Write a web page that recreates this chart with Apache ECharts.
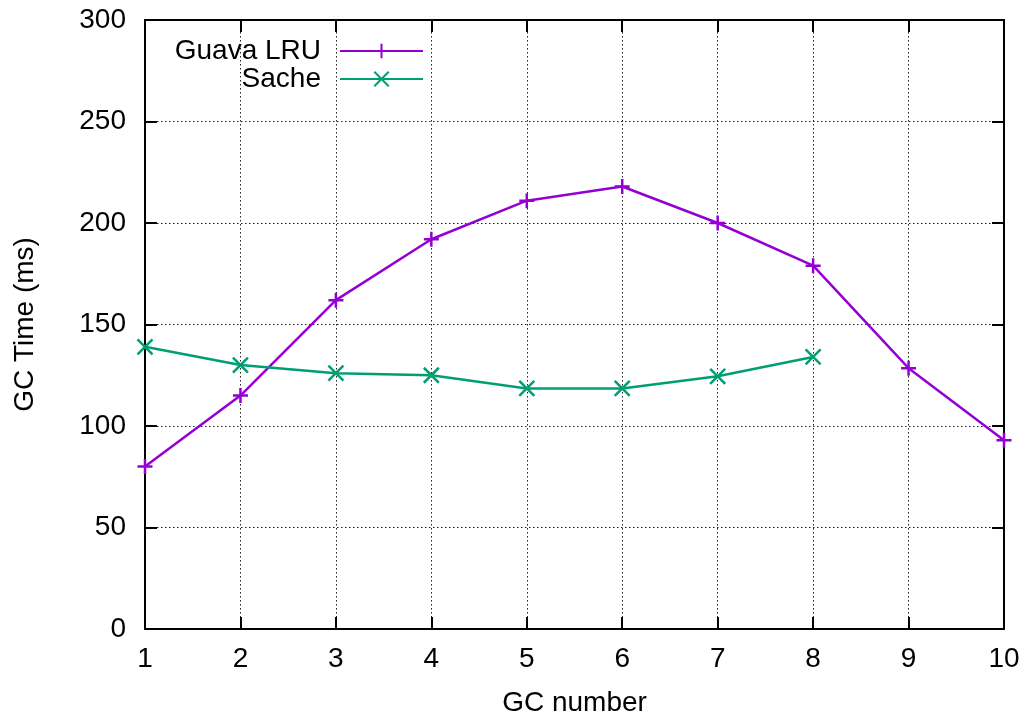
<!DOCTYPE html>
<html>
<head>
<meta charset="utf-8">
<script src="https://cdn.jsdelivr.net/npm/echarts@6/dist/echarts.min.js"></script>
<style>
  html, body { margin: 0; padding: 0; background: #fff; }
  #chart { width: 1027px; height: 717px; }
</style>
</head>
<body>
<div id="chart"></div>
<script>
// GC pause time per collection
const gcNumbers = [1, 2, 3, 4, 5, 6, 7, 8, 9, 10];
const guavaLru = [80, 115, 162, 192, 211, 218, 200, 179, 128.5, 93];
const sache = [139, 130, 126, 125, 118.5, 118.5, 124.5, 134];

const FONT = '"Liberation Sans", Arial, sans-serif';
const FS = 28;

const pairs = (ys) => ys.map((y, i) => [gcNumbers[i], y]);

const PLUS = 'path://M0,7L14,7M7,0L7,14';
const CROSS = 'path://M0,0L14,14M14,0L0,14';

const gridLine = { show: true, lineStyle: { color: '#222', width: 1, type: [1.5, 2.5] } };

const legendText = { fontSize: FS, color: '#000', fontFamily: FONT, padding: [0, 14, 0, 0] };

const chart = echarts.init(document.getElementById('chart'), null, { renderer: 'canvas' });

chart.setOption({
  animation: false,
  backgroundColor: '#fff',
  textStyle: { fontFamily: FONT },
  grid: { left: 145, right: 23, top: 20, bottom: 88, containLabel: false, outerBoundsMode: 'none' },
  legend: [
    {
      data: ['Guava LRU'],
      right: 598, top: 32, align: 'right', orient: 'vertical',
      itemWidth: 83, itemHeight: 18,
      textStyle: legendText
    },
    {
      data: ['Sache'],
      right: 598, top: 60, align: 'right', orient: 'vertical',
      itemWidth: 83, itemHeight: 18,
      textStyle: legendText
    }
  ],
  xAxis: [
    {
      type: 'value', min: 1, max: 10, interval: 1,
      name: 'GC number', nameLocation: 'middle', nameGap: 60,
      nameTextStyle: { fontSize: FS, color: '#000', fontFamily: FONT },
      axisLine: { show: true, onZero: false, lineStyle: { color: '#000', width: 2 } },
      axisTick: { show: true, inside: true, length: 12, lineStyle: { color: '#000', width: 2 } },
      axisLabel: { fontSize: FS, color: '#000', margin: 16, fontFamily: FONT },
      splitLine: gridLine
    },
    {
      type: 'value', min: 1, max: 10, interval: 1, position: 'top',
      axisLine: { show: true, onZero: false, lineStyle: { color: '#000', width: 2 } },
      axisTick: { show: true, inside: true, length: 12, lineStyle: { color: '#000', width: 2 } },
      axisLabel: { show: false },
      splitLine: { show: false }
    }
  ],
  yAxis: [
    {
      type: 'value', min: 0, max: 300, interval: 50,
      name: 'GC Time (ms)', nameLocation: 'middle', nameGap: 106, nameRotate: 90,
      nameTextStyle: { fontSize: FS, color: '#000', fontFamily: FONT },
      axisLine: { show: true, onZero: false, lineStyle: { color: '#000', width: 2 } },
      axisTick: { show: true, inside: true, length: 12, lineStyle: { color: '#000', width: 2 } },
      axisLabel: { fontSize: FS, color: '#000', margin: 19, fontFamily: FONT },
      splitLine: gridLine
    },
    {
      type: 'value', min: 0, max: 300, interval: 50, position: 'right',
      axisLine: { show: true, onZero: false, lineStyle: { color: '#000', width: 2 } },
      axisTick: { show: true, inside: true, length: 12, lineStyle: { color: '#000', width: 2 } },
      axisLabel: { show: false },
      splitLine: { show: false }
    }
  ],
  series: [
    {
      name: 'Guava LRU', type: 'line',
      data: pairs(guavaLru),
      symbol: PLUS, symbolSize: 15, showAllSymbol: true,
      itemStyle: { color: '#9400d3', borderColor: '#9400d3', borderWidth: 2.5 },
      lineStyle: { color: '#9400d3', width: 2.5 },
      emphasis: { disabled: true },
      z: 3
    },
    {
      name: 'Sache', type: 'line',
      data: pairs(sache),
      symbol: CROSS, symbolSize: 15, showAllSymbol: true,
      itemStyle: { color: '#009e73', borderColor: '#009e73', borderWidth: 2.5 },
      lineStyle: { color: '#009e73', width: 2.5 },
      emphasis: { disabled: true },
      z: 3
    }
  ]
});
</script>
</body>
</html>
